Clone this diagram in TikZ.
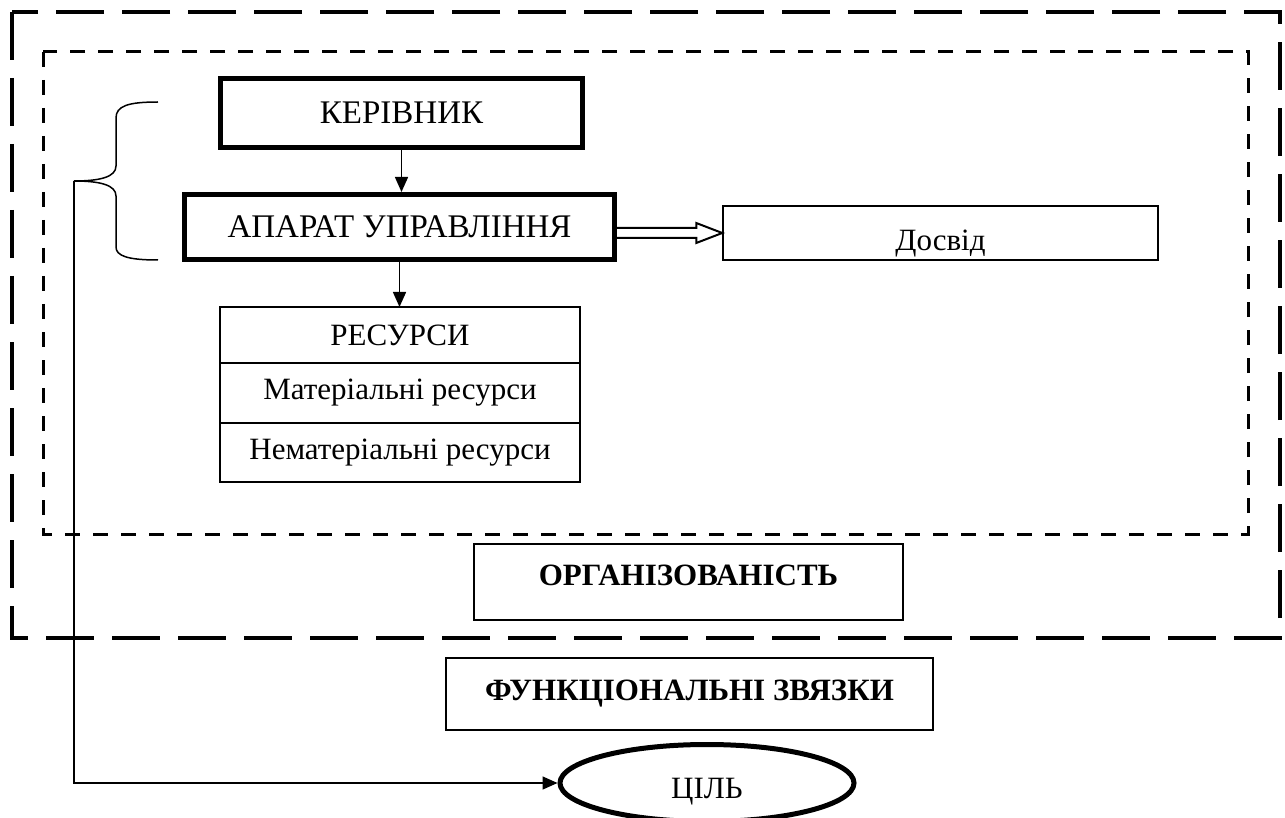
\documentclass[tikz,border=0pt]{standalone}
\usepackage{fontspec}
\setmainfont{Liberation Serif}
\usetikzlibrary{positioning,shapes.geometric,arrows.meta,calc}

\begin{document}
\begin{tikzpicture}[x=1pt, y=-1pt,
    font=\fontsize{31}{37}\selectfont,
    main/.style = {draw, rectangle, line width=1.5pt, inner sep=0pt},
    heavy/.style = {main, line width=5pt, font=\fontsize{33}{39}\selectfont},
    res/.style = {main, outer sep=0pt, minimum width=360pt},
    arr/.style = {line width=1.5pt, -{Triangle[length=15pt,width=13pt]}},
    bigdash/.style = {line width=4.5pt, dash pattern=on 48pt off 18pt},
    smalldash/.style = {line width=3pt, dash pattern=on 15pt off 13pt}]
            \useasboundingbox (0,0) rectangle (1285,818);
            \draw[bigdash] (12,12) rectangle (1280,638);
            \draw[smalldash] (43,52) rectangle (1248,534);

            \node[heavy, minimum width=362pt, minimum height=69pt](ker) at (401.5,113){КЕРІВНИК};
            \node[heavy, minimum width=430pt, minimum height=65pt](apar) at (399.5,227){АПАРАТ УПРАВЛІННЯ};
            \node[res, minimum height=56pt](res1) at (400,335){РЕСУРСИ};
            \node[res, minimum height=60pt](res2)[below=0pt of res1]{Матеріальні ресурси};
            \node[res, minimum height=59pt](res3)[below=0pt of res2]{Нематеріальні ресурси};
            \node[main, minimum width=435pt, minimum height=54pt, text height=40pt, text depth=5.5pt](dosv) at (940.5,233){Досвід};
            \node[main, minimum width=429pt, minimum height=76pt, text height=21pt, text depth=14.5pt](org) at (688.5,582){\bfseries ОРГАНІЗОВАНІСТЬ};
            \node[main, minimum width=487pt, minimum height=72pt](func) at (689.5,694){\bfseries ФУНКЦІОНАЛЬНІ ЗВЯЗКИ};
            \node[draw, ellipse, line width=5pt, minimum width=294pt, minimum height=77pt, text height=31pt, text depth=0pt](cil) at (707,783){ЦІЛЬ};

            \draw[arr] (ker.south) -- (ker.south |- apar.north);
            \draw[arr] (apar.south) -- (apar.south |- res1.north);

            \coordinate (tip) at (dosv.west);
            \draw[line width=2pt] ($(apar.east |- tip)+(0,-5)$) -- ($(tip)+(-26,-5)$) -- ($(tip)+(-26,-10)$) -- (tip)
                -- ($(tip)+(-26,10)$) -- ($(tip)+(-26,5)$) -- ($(apar.east |- tip)+(0,5)$);

            \coordinate (bt) at (74,181);
            \draw[line width=1.5pt] (158,102) .. controls (128,102) and (116,106) .. (116,118) -- (116,166)
                .. controls (116,177) and (100,181) .. (bt) .. controls (100,181) and (116,185) .. (116,196)
                -- (116,247) .. controls (116,256) and (128,260) .. (158,260);
            \draw[arr] (bt) |- (cil.west);
        \end{tikzpicture}
\end{document}
